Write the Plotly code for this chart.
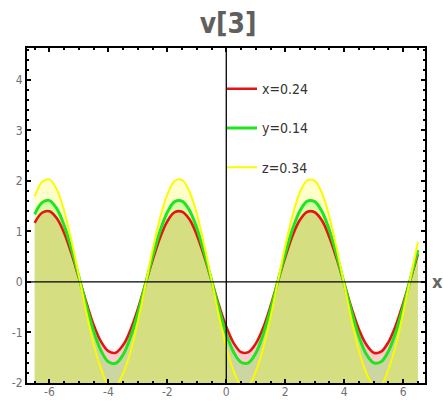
import plotly.graph_objects as go

# Sample positions along the horizontal axis
x_vals = [-6.5, -6.25, -6.0, -5.75, -5.5, -5.25, -5.0, -4.75, -4.5, -4.25,
          -4.0, -3.75, -3.5, -3.25, -3.0, -2.75, -2.5, -2.25, -2.0, -1.75,
          -1.5, -1.25, -1.0, -0.75, -0.5, -0.25, 0.0, 0.25, 0.5, 0.75,
          1.0, 1.25, 1.5, 1.75, 2.0, 2.25, 2.5, 2.75, 3.0, 3.25,
          3.5, 3.75, 4.0, 4.25, 4.5, 4.75, 5.0, 5.25, 5.5, 5.75,
          6.0, 6.25, 6.5]

# v[3] for the three parameter settings
v_x = [1.17, 1.37, 1.40, 1.26, 0.97, 0.56, 0.08, -0.40, -0.85, -1.18,
       -1.37, -1.40, -1.25, -0.95, -0.54, -0.05, 0.43, 0.87, 1.20, 1.38,
       1.39, 1.24, 0.93, 0.51, 0.03, -0.46, -0.89, -1.21, -1.39, -1.39,
       -1.22, -0.91, -0.48, 0.01, 0.49, 0.92, 1.23, 1.39, 1.38, 1.21,
       0.88, 0.45, -0.03, -0.52, -0.94, -1.24, -1.40, -1.38, -1.19, -0.86,
       -0.42, 0.06, 0.55]
v_y = [1.34, 1.57, 1.61, 1.45, 1.12, 0.65, 0.10, -0.46, -0.97, -1.36,
       -1.58, -1.61, -1.44, -1.09, -0.62, -0.06, 0.50, 1.00, 1.38, 1.59,
       1.60, 1.42, 1.07, 0.58, 0.03, -0.53, -1.03, -1.39, -1.59, -1.60,
       -1.41, -1.04, -0.55, 0.01, 0.56, 1.05, 1.41, 1.60, 1.59, 1.39,
       1.02, 0.52, -0.04, -0.59, -1.08, -1.43, -1.60, -1.58, -1.37, -0.99,
       -0.49, 0.07, 0.63]
v_z = [1.69, 1.98, 2.03, 1.83, 1.41, 0.81, 0.12, -0.59, -1.23, -1.71,
       -2.03, -2.05, -1.81, -1.38, -0.78, -0.08, 0.63, 1.26, 1.73, 2.00,
       2.02, 1.79, 1.35, 0.73, 0.04, -0.67, -1.29, -1.76, -2.04, -2.04,
       -1.77, -1.31, -0.70, 0.01, 0.71, 1.32, 1.78, 2.01, 2.00, 1.75,
       1.28, 0.65, -0.05, -0.75, -1.36, -1.80, -2.05, -2.03, -1.73, -1.25,
       -0.61, 0.09, 0.79]

series_names = ["x=0.24", "y=0.14", "z=0.34"]
series_values = [v_x, v_y, v_z]
line_colors = ["rgb(228,20,20)", "rgb(30,230,30)", "rgb(250,250,0)"]
fill_colors = ["rgba(255,0,0,0.2)", "rgba(0,255,0,0.2)", "rgba(255,255,0,0.2)"]
line_widths = [2.6, 3.0, 2.0]

x_range = [-6.76, 6.74]
y_range = [-2.0, 4.63]
y_floor = y_range[0]

xtick_vals = [-6, -4, -2, 0, 2, 4, 6]
xtick_text = ["-6", "-4", "-2", "0", "2", "4", "6"]
ytick_vals = [-2, -1, 0, 1, 2, 3, 4]
ytick_text = ["-2", "-1", "0", "1", "2", "3", "4"]

narrow = "Liberation Sans Narrow, Arial Narrow, DejaVu Sans Condensed, Liberation Sans, sans-serif"

fig = go.Figure()

# Filled areas down to the bottom of the frame
for vals, fcol in zip(series_values, fill_colors):
    fig.add_trace(go.Scatter(x=x_vals, y=[y_floor] * len(x_vals), mode="lines",
                             line=dict(width=0), hoverinfo="skip", showlegend=False))
    fig.add_trace(go.Scatter(x=x_vals, y=vals, mode="lines", fill="tonexty",
                             fillcolor=fcol, line=dict(width=0, shape="spline"),
                             hoverinfo="skip", showlegend=False))

# Curves on top
for name, vals, col, w in zip(series_names, series_values, line_colors, line_widths):
    fig.add_trace(go.Scatter(x=x_vals, y=vals, mode="lines", name=name,
                             legendgroup=name,
                             line=dict(color=col, width=w, shape="spline")))

axis_common = dict(
    showline=True, linecolor="black", linewidth=2, mirror="allticks",
    ticks="inside", ticklen=4, tickwidth=1.5, tickcolor="black",
    showgrid=False, zeroline=False, automargin=False,
    tickfont=dict(family=narrow, size=12, color="#707070"),
)

fig.update_xaxes(range=x_range, tickvals=xtick_vals, ticktext=xtick_text,
                 ticklabelstandoff=-3,
                 minor=dict(dtick=0.5, ticks="inside", ticklen=2, tickcolor="black"),
                 **axis_common)
fig.update_yaxes(range=y_range, tickvals=ytick_vals, ticktext=ytick_text,
                 minor=dict(dtick=0.2, ticks="inside", ticklen=2, tickcolor="black"),
                 **axis_common)

# Coordinate axes through the origin
fig.add_shape(type="line", xref="x", yref="paper", x0=0, x1=0, y0=0, y1=1,
              line=dict(color="black", width=1.3), layer="above")
fig.add_shape(type="line", xref="paper", yref="y", x0=0, x1=1, y0=0, y1=0,
              line=dict(color="black", width=1.3), layer="above")

fig.add_annotation(text="x", xref="paper", yref="y", x=1, y=0, xanchor="left",
                   xshift=5, showarrow=False,
                   font=dict(family=narrow, size=18, color="#666666", weight="bold"))

fig.update_layout(
    width=443, height=401,
    margin=dict(l=27, r=18, t=48, b=18, autoexpand=False),
    paper_bgcolor="white", plot_bgcolor="white",
    title=dict(text="v[3]", x=0.515, xanchor="center", y=0.942, yanchor="middle",
               font=dict(family=narrow, size=28, color="#5f5f5f", weight="bold")),
    legend=dict(x=0.49, y=0.925, xanchor="left", yanchor="top",
                bgcolor="rgba(0,0,0,0)", tracegroupgap=18, traceorder="grouped",
                font=dict(family=narrow, size=14, color="#333333")),
    showlegend=True,
)

fig.write_html("out.html")
